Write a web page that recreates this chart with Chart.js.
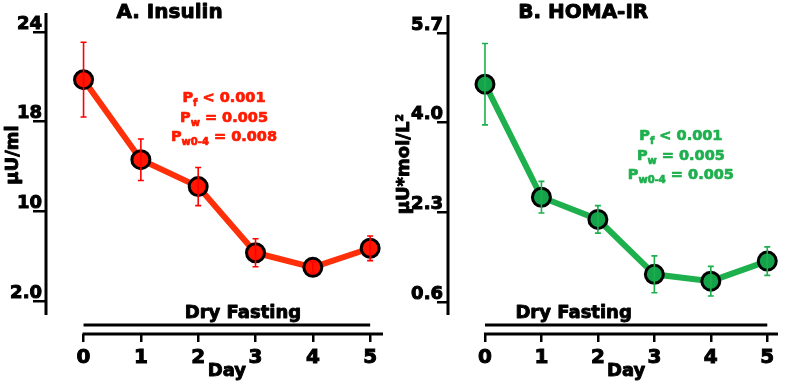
<!DOCTYPE html>
<html lang="en">
<head>
<meta charset="UTF-8">
<title>Insulin and HOMA-IR during dry fasting</title>
<script src="https://cdn.jsdelivr.net/npm/chart.js"></script>
<style>
    body { margin: 0; padding: 0; background: #fff; }
    .wrap { position: relative; width: 790px; height: 383px; }
    canvas { position: absolute; top: 0; }
    #insulinChart { left: 0; }
    #homaChart { left: 395px; }
</style>
</head>
<body>
<div class="wrap">
    <canvas id="insulinChart" width="395" height="383"></canvas>
    <canvas id="homaChart" width="395" height="383"></canvas>
</div>
<script>
    // data
    const days = [0, 1, 2, 3, 4, 5];

    const insulin = [20.8, 14.6, 12.2, 6.3, 5.0, 6.7];       // µU/ml
    const insulinErr = [2.5, 1.85, 1.7, 1.25, 0.5, 1.1];
    const insulinTicks = [2, 10, 18, 24];
    const insulinTickLabels = ['2.0', '10', '18', '24'];

    const homa = [4.73, 2.59, 2.17, 1.13, 1.0, 1.38];         // µU*mol/L²
    const homaErr = [0.77, 0.3, 0.26, 0.35, 0.28, 0.27];
    const homaTicks = [0.6, 2.3, 4.0, 5.7];
    const homaTickLabels = ['0.6', '2.3', '4.0', '5.7'];

    const insulinStats = [['P', 'f', ' < 0.001'], ['P', 'w', ' = 0.005'], ['P', 'w0-4', ' = 0.008']];
    const homaStats = [['P', 'f', ' < 0.001'], ['P', 'w', ' = 0.005'], ['P', 'w0-4', ' = 0.005']];

    const FONT = '"DejaVu Sans", Arial, sans-serif';
    Chart.defaults.font.family = FONT;
    Chart.defaults.color = '#000';

    // the insulin axis labels are evenly spaced though their values are not,
    // so values are placed piecewise between the labelled ticks
    function insulinPos(v) {
        const t = insulinTicks;
        let i = 0;
        while (i < t.length - 2 && v > t[i + 1]) i++;
        return i + (v - t[i]) / (t[i + 1] - t[i]);
    }
    const identity = v => v;

    // fill + thin stroke so the bold face looks as heavy as the original
    function heavyText(ctx, s, x, y) {
        ctx.strokeText(s, x, y);
        ctx.fillText(s, x, y);
    }

    const decorPlugin = {
        id: 'decor',
        afterDatasetsDraw(chart, args, o) {
            const { ctx, chartArea } = chart;
            const xs = chart.scales.x, ys = chart.scales.y;
            ctx.save();

            // error bars
            ctx.strokeStyle = o.errColor;
            ctx.lineWidth = 1.6;
            o.values.forEach((v, i) => {
                const x = xs.getPixelForValue(days[i]);
                const top = ys.getPixelForValue(o.map(v + o.errs[i]));
                const bot = ys.getPixelForValue(o.map(v - o.errs[i]));
                ctx.beginPath();
                ctx.moveTo(x, top); ctx.lineTo(x, bot);
                ctx.moveTo(x - 3, top); ctx.lineTo(x + 3, top);
                ctx.moveTo(x - 3, bot); ctx.lineTo(x + 3, bot);
                ctx.stroke();
            });

            // detached axis lines
            ctx.strokeStyle = '#000';
            ctx.lineWidth = 3;
            ctx.beginPath();
            ctx.moveTo(chartArea.left, chartArea.top);
            ctx.lineTo(chartArea.left, chartArea.bottom - 19);
            ctx.moveTo(xs.getPixelForValue(0) - 1, chartArea.bottom);
            ctx.lineTo(chartArea.right, chartArea.bottom);
            // dry fasting bar
            ctx.moveTo(xs.getPixelForValue(0), chartArea.bottom - 9);
            ctx.lineTo(xs.getPixelForValue(5), chartArea.bottom - 9);
            ctx.stroke();

            ctx.fillStyle = '#000';
            ctx.strokeStyle = '#000';
            ctx.lineWidth = 0.9;
            ctx.lineJoin = 'round';
            ctx.textAlign = 'center';
            ctx.textBaseline = 'alphabetic';
            ctx.font = 'bold 20px ' + FONT;
            heavyText(ctx, o.title, xs.getPixelForValue(o.titleX), 18);
            ctx.font = 'bold 18px ' + FONT;
            heavyText(ctx, 'Dry Fasting', xs.getPixelForValue(o.dryX), chartArea.bottom - 16);
            heavyText(ctx, 'Day', xs.getPixelForValue(2.5), 376);

            // y axis title
            ctx.save();
            ctx.translate(o.yTitleX, o.yTitleY);
            ctx.rotate(-Math.PI / 2);
            ctx.textBaseline = 'middle';
            heavyText(ctx, o.yTitle, 0, 0);
            ctx.restore();

            // stats text with subscripts
            ctx.fillStyle = o.statColor;
            ctx.strokeStyle = o.statColor;
            ctx.lineWidth = 0.7;
            ctx.textAlign = 'left';
            const big = 'bold 14.5px ' + FONT, small = 'bold 10px ' + FONT;
            o.stats.forEach((row, r) => {
                ctx.font = big; const w1 = ctx.measureText(row[0]).width, w3 = ctx.measureText(row[2]).width;
                ctx.font = small; const w2 = ctx.measureText(row[1]).width;
                let x = xs.getPixelForValue(o.statX) - (w1 + w2 + w3) / 2;
                const y = o.statY + r * 19.5;
                ctx.font = big; heavyText(ctx, row[0], x, y); x += w1;
                ctx.font = small; heavyText(ctx, row[1], x, y + 4); x += w2;
                ctx.font = big; heavyText(ctx, row[2], x, y);
            });
            ctx.restore();
        }
    };

    function makeChart(id, cfg) {
        return new Chart(document.getElementById(id), {
            type: 'line',
            data: {
                datasets: [{
                    data: cfg.values.map((v, i) => ({ x: days[i], y: cfg.map(v) })),
                    borderColor: cfg.lineColor,
                    borderWidth: 6,
                    pointRadius: 9,
                    pointBorderWidth: 3,
                    pointBorderColor: '#000',
                    pointBackgroundColor: cfg.fillColor,
                    tension: 0
                }]
            },
            options: {
                responsive: false,
                animation: false,
                devicePixelRatio: 1,
                layout: { padding: { left: 0, right: cfg.padRight, top: cfg.top, bottom: 0 } },
                plugins: {
                    legend: { display: false },
                    tooltip: { enabled: false },
                    decor: cfg.decor
                },
                scales: {
                    x: {
                        type: 'linear',
                        min: -0.655,
                        max: cfg.xMax,
                        afterBuildTicks: s => { s.ticks = days.map(v => ({ value: v })); },
                        afterFit: s => { s.height = 383 - cfg.bottom; },
                        grid: { drawOnChartArea: false, tickLength: 8, lineWidth: 2.5, color: '#000' },
                        border: { display: false },
                        ticks: {
                            font: { size: 20, weight: 'bold' }, padding: 4, maxRotation: 0,
                            textStrokeWidth: 1, textStrokeColor: '#000'
                        }
                    },
                    y: {
                        type: 'linear',
                        min: cfg.yMin,
                        max: cfg.yMax,
                        afterBuildTicks: s => { s.ticks = cfg.ticks.map(v => ({ value: cfg.map(v) })); },
                        afterFit: s => { s.width = cfg.left; },
                        grid: { drawOnChartArea: false, tickLength: cfg.tickLen, lineWidth: 2.5, color: '#000' },
                        border: { display: false },
                        ticks: {
                            font: { size: 18, weight: 'bold' },
                            padding: cfg.tickPad,
                            labelOffset: -8,
                            textStrokeWidth: 1, textStrokeColor: '#000',
                            callback: (v, i) => cfg.tickLabels[i]
                        }
                    }
                }
            },
            plugins: [decorPlugin]
        });
    }

    makeChart('insulinChart', {
        values: insulin, map: insulinPos,
        lineColor: '#ff2f0a', fillColor: '#ff1500',
        left: 46, top: 13, bottom: 334, padRight: 8,
        xMax: 5.224, yMin: -0.368, yMax: 3.21,
        ticks: insulinTicks, tickLabels: insulinTickLabels, tickLen: 13, tickPad: -9,
        decor: {
            values: insulin, errs: insulinErr, map: insulinPos, errColor: '#ff0000',
            title: 'A. Insulin', titleX: 1.5, dryX: 2.78,
            yTitle: 'μU/ml', yTitleX: 13, yTitleY: 155,
            stats: insulinStats, statColor: '#ff1a00', statX: 2.45, statY: 102
        }
    });

    makeChart('homaChart', {
        values: homa, map: identity,
        lineColor: '#1fb04e', fillColor: '#14a34a',
        left: 53, top: 15, bottom: 334, padRight: 3,
        xMax: 5.19, yMin: 0, yMax: 6.04,
        ticks: homaTicks, tickLabels: homaTickLabels, tickLen: 11, tickPad: -6,
        decor: {
            values: homa, errs: homaErr, map: identity, errColor: '#1cb04c',
            title: 'B. HOMA-IR', titleX: 1.74, dryX: 1.57,
            yTitle: 'μU*mol/L²', yTitleX: 9, yTitleY: 164,
            stats: homaStats, statColor: '#1eb04e', statX: 3.47, statY: 140
        }
    });
</script>
</body>
</html>
